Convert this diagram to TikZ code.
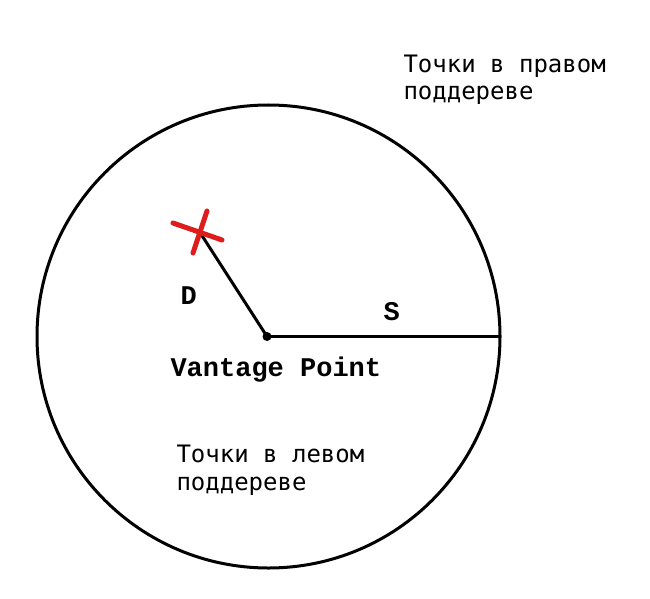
\documentclass[tikz,border=0pt]{standalone}
\usepackage{fontspec}
\newfontfamily\cyrmono{DejaVu Sans Mono}
\newfontfamily\courmono{Liberation Mono}
\definecolor{markred}{RGB}{222,28,28}
\begin{document}
\begin{tikzpicture}[x=1pt, y=-1pt, line width=3pt]
\useasboundingbox (0,0) rectangle (650,599);
\tikzset{
  lbl/.style={anchor=base west, inner sep=0pt, font=\cyrmono\fontsize{24}{28}\selectfont, align=left},
  bold lbl/.style={anchor=base west, inner sep=0pt, font=\courmono\bfseries\fontsize{27}{30}\selectfont},
}
\node[circle, draw, minimum size=463pt, inner sep=0pt] (ball) at (268.5,336.5){};
\node[circle, fill, minimum size=9pt, inner sep=0pt] (vp) at (267,336.5){};
\coordinate (rim) at (500,336.5);
\coordinate (pt) at (199,231);
\draw[](vp.center) -- (rim);
\draw[](vp.center) -- (pt);
\coordinate (xa1) at (173,223);
\coordinate (xa2) at (222,240);
\coordinate (xb1) at (207,211);
\coordinate (xb2) at (193,253);
\draw[markred, line width=5pt, line cap=round](xa1) -- (xa2);
\draw[markred, line width=5pt, line cap=round](xb1) -- (xb2);
\node[bold lbl] (dlbl) at (179,304){D};
\node[bold lbl] (slbl) at (382,320){S};
\node[bold lbl] (vplbl) at (169,376){Vantage Point};
\node[lbl] (right) at (402,100){Точки в правом\\поддереве};
\node[lbl] (left) at (175,490){Точки в левом\\поддереве};
\end{tikzpicture}
\end{document}
